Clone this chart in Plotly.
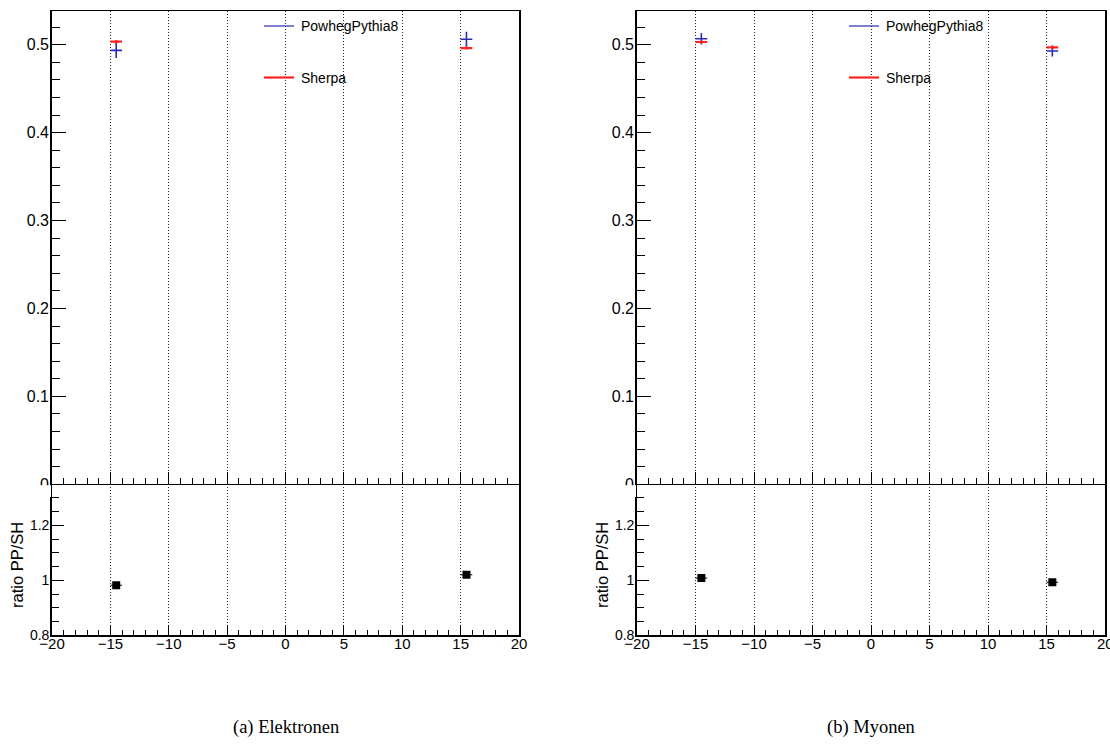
import plotly.graph_objects as go

W, H = 1110, 756

# ---------------- data ----------------
bin_centers = [-14.5, 15.5]
bin_half_width = [0.5, 0.5]

# (a) Elektronen
el_pp = [0.4936, 0.5062]
el_pp_err = [0.0088, 0.0085]
el_sh = [0.5034, 0.4962]
el_sh_err = [0.0018, 0.0018]
el_ratio = [0.982, 1.020]

# (b) Myonen
mu_pp = [0.5068, 0.4928]
mu_pp_err = [0.0065, 0.0063]
mu_sh = [0.5031, 0.4970]
mu_sh_err = [0.0018, 0.0018]
mu_ratio = [1.008, 0.993]

top_yticks = [0, 0.1, 0.2, 0.3, 0.4, 0.5]
top_yticklabels = ["0", "0.1", "0.2", "0.3", "0.4", "0.5"]
ratio_yticks = [0.8, 1.0, 1.2]
ratio_yticklabels = ["0.8", "1", "1.2"]
xticks = [-20, -15, -10, -5, 0, 5, 10, 15, 20]
xticklabels = ["\u221220", "\u221215", "\u221210", "\u22125", "0", "5", "10", "15", "20"]

legend_names = ["PowhegPythia8", "Sherpa"]
captions = ["(a) Elektronen", "(b) Myonen"]
ratio_title = "ratio PP/SH"

BLUE = "#2a2ab4"
RED = "#ff2020"

# ---------------- layout geometry (pixels) ----------------
panels_x = [(52, 519), (637, 1105)]
top_px = (10.5, 484.3)
ratio_px = (484.3, 635.3)


def px_x(p):
    return p / W


def px_y(p):
    return 1 - p / H


fig = go.Figure()

datasets = [
    (el_pp, el_pp_err, el_sh, el_sh_err, el_ratio),
    (mu_pp, mu_pp_err, mu_sh, mu_sh_err, mu_ratio),
]

axis_font = dict(family="Liberation Sans, Arial, sans-serif", color="black")

for i, (pp, pp_err, sh, sh_err, ratio) in enumerate(datasets):
    xt = "x" if i == 0 else f"x{2*i+1}"
    yt = "y" if i == 0 else f"y{2*i+1}"
    xr = f"x{2*i+2}"
    yr = f"y{2*i+2}"
    fig.add_trace(go.Scatter(
        x=bin_centers, y=pp, mode="markers", xaxis=xt, yaxis=yt,
        marker=dict(size=0.1, color=BLUE), showlegend=False,
        error_x=dict(type="data", array=bin_half_width, width=0, thickness=1.6, color=BLUE),
        error_y=dict(type="data", array=pp_err, width=0, thickness=1.6, color=BLUE),
    ))
    fig.add_trace(go.Scatter(
        x=bin_centers, y=sh, mode="markers", xaxis=xt, yaxis=yt,
        marker=dict(size=0.1, color=RED), showlegend=False,
        error_x=dict(type="data", array=bin_half_width, width=0, thickness=2.2, color=RED),
        error_y=dict(type="data", array=sh_err, width=0, thickness=2.2, color=RED),
    ))
    fig.add_trace(go.Scatter(
        x=bin_centers, y=ratio, mode="markers", xaxis=xr, yaxis=yr,
        marker=dict(size=8, symbol="square", color="black"), showlegend=False,
        error_x=dict(type="data", array=bin_half_width, width=0, thickness=1, color="black"),
    ))

layout = dict(
    width=W, height=H,
    margin=dict(l=0, r=0, t=0, b=0, autoexpand=False),
    paper_bgcolor="white", plot_bgcolor="rgba(0,0,0,0)",
    showlegend=False,
)

GRID = dict(showgrid=True, gridcolor="#222222", gridwidth=1, griddash="1px,2px")

for i, (x0, x1) in enumerate(panels_x):
    xt_name = "xaxis" if i == 0 else f"xaxis{2*i+1}"
    yt_name = "yaxis" if i == 0 else f"yaxis{2*i+1}"
    xr_name = f"xaxis{2*i+2}"
    yr_name = f"yaxis{2*i+2}"
    xt_id = "x" if i == 0 else f"x{2*i+1}"
    yt_id = "y" if i == 0 else f"y{2*i+1}"
    xr_id = f"x{2*i+2}"
    yr_id = f"y{2*i+2}"
    common_x = dict(
        range=[-20, 20], domain=[px_x(x0), px_x(x1)], automargin=False,
        showline=True, linecolor="black",
        ticks="inside", tickcolor="black", tickwidth=1,
        tickmode="array", tickvals=xticks, ticktext=xticklabels,
        zeroline=False, fixedrange=True, **GRID,
    )
    layout[xt_name] = dict(
        common_x, anchor=yt_id, ticklen=12, showticklabels=False, linewidth=1.2, mirror=True,
        minor=dict(dtick=1, ticklen=6, tickcolor="black", ticks="inside", showgrid=False),
    )
    layout[xr_name] = dict(
        common_x, anchor=yr_id, ticklen=10, showticklabels=True, linewidth=2, mirror=False,
        tickfont=dict(axis_font, size=15), ticklabelstandoff=-6,
        minor=dict(dtick=1, ticklen=5, tickcolor="black", ticks="inside", showgrid=False),
    )
    layout[yt_name] = dict(
        range=[0, 0.5389], domain=[px_y(top_px[1]), px_y(top_px[0])], anchor=xt_id,
        automargin=False,
        showline=True, linecolor="black", linewidth=1.6, mirror=True,
        ticks="inside", ticklen=14, tickcolor="black", tickwidth=1,
        tickmode="array", tickvals=top_yticks, ticktext=top_yticklabels,
        tickfont=dict(axis_font, size=16), ticklabelstandoff=-2,
        minor=dict(dtick=0.02, tick0=0, ticklen=8, tickcolor="black", ticks="inside", showgrid=False),
        showgrid=False, zeroline=False, fixedrange=True,
    )
    layout[yr_name] = dict(
        range=[0.8, 1.349], domain=[px_y(ratio_px[1]), px_y(ratio_px[0])], anchor=xr_id,
        automargin=False,
        showline=True, linecolor="black", linewidth=1.6, mirror=True,
        ticks="inside", ticklen=12, tickcolor="black", tickwidth=1,
        tickmode="array", tickvals=ratio_yticks, ticktext=ratio_yticklabels,
        tickfont=dict(axis_font, size=14), ticklabelstandoff=-2,
        minor=dict(dtick=0.05, tick0=0.8, ticklen=7, tickcolor="black", ticks="inside", showgrid=False),
        showgrid=False, zeroline=False, fixedrange=True,
    )

shapes = []
annotations = []
legend_colors = [BLUE, RED]
legend_y = [26, 77.5]
legend_widths = [1.2, 2.2]
for i, (x0, x1) in enumerate(panels_x):
    off = x0 - 52
    # legend
    for name, col, ly, lw in zip(legend_names, legend_colors, legend_y, legend_widths):
        shapes.append(dict(type="line", xref="paper", yref="paper",
                           x0=px_x(264 + off), x1=px_x(294 + off), y0=px_y(ly), y1=px_y(ly),
                           line=dict(color=col, width=lw), layer="above"))
        annotations.append(dict(text=name, xref="paper", yref="paper",
                                x=px_x(299 + off), y=px_y(ly), xanchor="left", yanchor="middle",
                                showarrow=False, font=dict(axis_font, size=14)))
    # ratio pad covers the lower half of the top pad's "0" label
    shapes.append(dict(type="rect", xref="paper", yref="paper",
                       x0=px_x(x0 - 32), x1=px_x(x0 - 1), y0=px_y(497), y1=px_y(485.2),
                       fillcolor="white", line=dict(width=0), layer="above"))
    # ratio y title
    annotations.append(dict(text=ratio_title, xref="paper", yref="paper",
                            x=px_x(x0 - 35), y=px_y(565), xanchor="center", yanchor="middle",
                            textangle=-90, showarrow=False, font=dict(axis_font, size=16.5)))
    # caption
    annotations.append(dict(text=captions[i], xref="paper", yref="paper",
                            x=px_x((x0 + x1) / 2), y=px_y(727), xanchor="center", yanchor="middle",
                            showarrow=False,
                            font=dict(family="Liberation Serif, Times New Roman, serif", size=18.5, color="black")))

# the last tick label of the right panel runs off the page edge and is cut there
annotations.append(dict(text=xticklabels[-1], xref="x4", yref="paper", x=xticks[-1], y=px_y(643),
                        xanchor="center", yanchor="middle", showarrow=False,
                        font=dict(axis_font, size=15)))

layout["shapes"] = shapes
layout["annotations"] = annotations
fig.update_layout(**layout)

fig.write_html("out.html")
